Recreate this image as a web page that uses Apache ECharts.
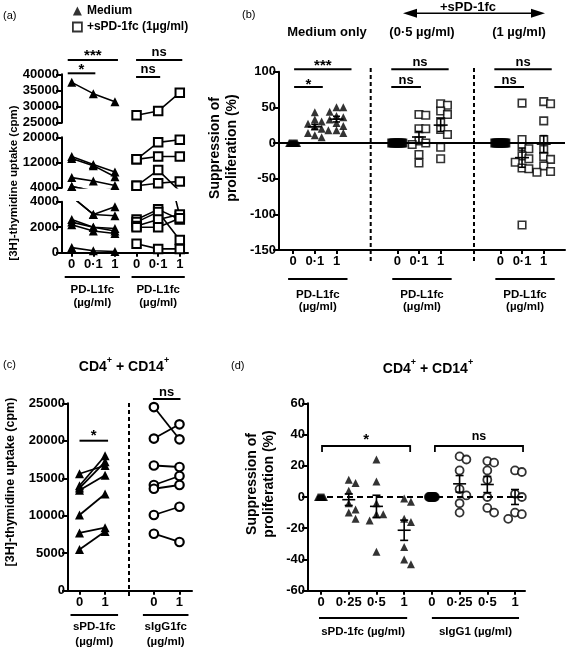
<!DOCTYPE html>
<html><head><meta charset="utf-8">
<script src="https://cdn.jsdelivr.net/npm/echarts@6/dist/echarts.min.js"></script>
<style>html,body{margin:0;padding:0;background:#fff}#c{width:568px;height:649px}</style>
</head><body><div id="c"></div>
<script>
// ================= DATA =================
// (a) [3H]-thymidine uptake (cpm), PD-L1fc 0 / 0·1 / 1 µg/ml
const aTickLabels = ['0', '0·1', '1', '0', '0·1', '1'];
const aMedium = [
  [37500, 34000, 31500],
  [13900, 11400, 9000],
  [13300, 11000, 7500],
  [7200, 6100, 4700],
  [4400, 3000, 3600],
  [4400, 3000, 2900],
  [2600, 2000, 1900],
  [2400, 2000, 1700],
  [2200, 1700, 1500],
  [400, 150, 100]
];
const aSPD = [
  [27300, 28600, 34300],
  [13000, 18400, 19200],
  [13000, 13900, 13900],
  [4600, 9600, 2900],
  [4600, 5400, 6000],
  [2600, 3400, 2600],
  [2400, 3200, 1000],
  [2100, 2600, 3000],
  [2000, 2000, 2700],
  [700, 300, 300]
];
const aTopTicks = [25000, 30000, 35000, 40000];
const aMidTicks = [4000, 12000, 20000];
const aLowTicks = [0, 2000, 4000];

// (b) suppression of proliferation (%)
const bTickLabels = ['0', '0·1', '1', '0', '0·1', '1', '0', '0·1', '1'];
const bMedium0 = [0, 0, 0, 0, 0, 0, 0, 0, 0, 0];
const bMedium01 = [43, 33, 30, 27, 23, 20, 18, 14, 11, 8];
const bMedium1 = [50, 50, 44, 38, 36, 33, 28, 24, 18, 14];
const bSPD05_0 = [0, 0, 0, 0, 0, 0, 0, 0, 0];
const bSPD05_01 = [40, 39, 20, 20, 3, 0, -2, -16, -28];
const bSPD05_1 = [55, 53, 45, 40, 30, 19, 12, -6, -22];
const bSPD1_0 = [0, 0, 0, 0, 0, 0, 0, 0, 0, 0];
const bSPD1_01 = [56, 5, -5, -8, -18, -22, -27, -35, -36, -115];
const bSPD1_1 = [58, 55, 31, 5, -9, -19, -23, -32, -40, -41];
const bTicksY = [-150, -100, -50, 0, 50, 100];

// (c) CD4+ + CD14+ thymidine uptake (cpm)
const cTickLabels = ['0', '1', '0', '1'];
const cSPD = [[15600, 16700], [14000, 18000], [13700, 17200], [13400, 15400], [10100, 12900], [7700, 8400], [5500, 7900]];
const cIgG = [[24500, 20200], [20300, 22200], [16700, 16500], [14100, 15300], [13600, 14100], [10100, 11200], [7600, 6500]];
const cTicksY = [0, 5000, 10000, 15000, 20000, 25000];

// (d) CD4+ + CD14+ suppression (%)
const dTickLabels = ['0', '0·25', '0·5', '1', '0', '0·25', '0·5', '1'];
const dSPD0 = [0, 0, 0, 0, 0, 0, 0];
const dSPD025 = [11, 9, 4, -4, -8, -10, -14];
const dSPD05 = [24, 10, -4, -11, -11, -15, -35];
const dSPD1 = [-1, -3, -14, -16, -32, -40, -43];
const dIgG0 = [0, 0, 0, 0, 0, 0, 0];
const dIgG025 = [26, 24, 17, 5, 1, -4, -10];
const dIgG05 = [23, 22, 17, 11, 0, -7, -10];
const dIgG1 = [17, 16, 2, 0, -10, -11, -14];
const dTicksY = [-60, -40, -20, 0, 20, 40, 60];

// ================= LAYOUT =================
const FONT = '"Liberation Sans", Arial, Helvetica, sans-serif';
const TICK_FS = 13;
const aPos = [0, 1, 2, 3, 4, 5];
const bPos = [0, 1, 2, 4.8, 5.8, 6.8, 9.55, 10.55, 11.55];
const cPos = [0, 1, 2.91, 3.91];
const dPos = [0, 1, 2, 3, 4, 5, 6, 7];
const GRIDS = [
  {left: 62, top: 74.3, width: 126, height: 48.4},
  {left: 62, top: 137.3, width: 126, height: 50.4},
  {left: 62, top: 201.7, width: 126, height: 51},
  {left: 279, top: 71.7, width: 286, height: 178.3},
  {left: 68, top: 403.3, width: 124, height: 187.4},
  {left: 308, top: 403.3, width: 217, height: 187.4}
];
const XR = [[-0.45, 5.38], [-0.45, 5.38], [-0.45, 5.38], [-0.65, 12.53], [-0.45, 4.4], [-0.47, 7.36]];

const AX = {color: '#000', width: 2};
function yAxisOf(g, min, max, ticks) {
  return {type: 'value', gridIndex: g, min, max,
    axisLine: {show: true, onZero: false, lineStyle: AX},
    axisTick: {show: true, length: 6, lineStyle: AX, customValues: ticks},
    axisLabel: {show: true, customValues: ticks, formatter: v => String(v), color: '#000', fontFamily: FONT,
      fontWeight: 'bold', fontSize: TICK_FS, margin: 3, showMinLabel: true, showMaxLabel: true},
    splitLine: {show: false}};
}
function xAxisOf(g, pos, labels, show) {
  return {type: 'value', gridIndex: g, min: XR[g][0], max: XR[g][1],
    axisLine: {show, onZero: false, lineStyle: AX},
    axisTick: {show, length: 4, lineStyle: AX, customValues: pos},
    axisLabel: {show, customValues: pos, formatter: v => {
        let k = 0; pos.forEach((p, i) => { if (Math.abs(p - v) < Math.abs(pos[k] - v)) k = i; }); return labels[k]; },
      color: '#000', fontFamily: FONT, fontWeight: 'bold', fontSize: TICK_FS, margin: 5, showMinLabel: true, showMaxLabel: true},
    splitLine: {show: false}};
}

const xAxes = [
  xAxisOf(0, aPos, aTickLabels, false), xAxisOf(1, aPos, aTickLabels, false), xAxisOf(2, aPos, aTickLabels, true),
  xAxisOf(3, bPos, bTickLabels, true), xAxisOf(4, cPos, cTickLabels, true), xAxisOf(5, dPos, dTickLabels, true)
];
const yAxes = [
  yAxisOf(0, 25000, 40000, aTopTicks), yAxisOf(1, 4000, 20000, aMidTicks), yAxisOf(2, 0, 4000, aLowTicks),
  yAxisOf(3, -150, 100, bTicksY), yAxisOf(4, 0, 25000, cTicksY), yAxisOf(5, -60, 60, dTicksY)
];

const TRI = {color: '#000'};
const SQ = {color: '#fff', borderColor: '#000', borderWidth: 1.6};
const SQF = {color: '#000', borderColor: '#000', borderWidth: 1.6};
const CIR = {color: '#fff', borderColor: '#000', borderWidth: 1.8};
const CIRF = {color: '#000', borderColor: '#000', borderWidth: 1.8};

const series = [];
// legend dummies
series.push({type: 'scatter', name: 'Medium', xAxisIndex: 0, yAxisIndex: 0, data: [], symbol: 'triangle', itemStyle: TRI});
series.push({type: 'scatter', name: '+sPD-1fc (1µg/ml)', xAxisIndex: 0, yAxisIndex: 0, data: [], symbol: 'rect', itemStyle: {color: '#fff', borderColor: '#000', borderWidth: 1.8}});

// (a) three broken-axis segments
for (let g = 0; g < 3; g++) {
  aMedium.forEach(row => series.push({type: 'line', name: 'a-med', xAxisIndex: g, yAxisIndex: g,
    data: row.map((v, i) => [aPos[i], v]), symbol: 'triangle', symbolSize: 9, clip: true,
    lineStyle: {color: '#000', width: 1.6}, itemStyle: TRI, z: 3, silent: true}));
  aSPD.forEach(row => series.push({type: 'line', name: 'a-spd', xAxisIndex: g, yAxisIndex: g,
    data: row.map((v, i) => [aPos[3 + i], v]), symbol: 'rect', symbolSize: 8.5, clip: true,
    lineStyle: {color: '#000', width: 1.6}, itemStyle: {color: '#fff', borderColor: '#000', borderWidth: 2}, z: 3, silent: true}));
}

// swarm layout (horizontal spreading of overlapping points)
function swarm(vals, yPx, size, zeroW) {
  const n = vals.length;
  if (vals.every(v => v === vals[0])) return vals.map((v, i) => n === 1 ? 0 : -zeroW / 2 + zeroW * i / (n - 1));
  const order = vals.map((_, i) => i).sort((a, b) => vals[b] - vals[a]);
  const placed = [], offs = new Array(n).fill(0), step = size * 0.85;
  for (const i of order) {
    const y = vals[i] * yPx;
    for (let k = 0; k < 12; k++) {
      const cand = k === 0 ? 0 : (k % 2 ? 1 : -1) * Math.ceil(k / 2) * step;
      offs[i] = cand;
      if (!placed.some(p => Math.abs(p.y - y) < size * 0.85 && Math.abs(p.o - cand) < step * 0.95)) break;
    }
    placed.push({y, o: offs[i]});
  }
  return offs;
}
function meanSem(v) {
  const n = v.length, m = v.reduce((a, b) => a + b, 0) / n;
  const sd = Math.sqrt(v.reduce((a, b) => a + (b - m) * (b - m), 0) / (n - 1));
  return [m, sd / Math.sqrt(n)];
}
function errSeries(g, items, hw, cw) {
  return {type: 'custom', xAxisIndex: g, yAxisIndex: g, z: 6, silent: true, data: items,
    renderItem: (params, api) => {
      const x = api.value(0), m = api.value(1), s = api.value(2);
      const pm = api.coord([x, m]), pl = api.coord([x, m - s]), ph = api.coord([x, m + s]);
      const st = {stroke: '#000', lineWidth: 1.6};
      return {type: 'group', children: [
        {type: 'line', shape: {x1: pm[0] - hw, y1: pm[1], x2: pm[0] + hw, y2: pm[1]}, style: st},
        {type: 'line', shape: {x1: pl[0], y1: pl[1], x2: ph[0], y2: ph[1]}, style: st},
        {type: 'line', shape: {x1: pl[0] - cw, y1: pl[1], x2: pl[0] + cw, y2: pl[1]}, style: st},
        {type: 'line', shape: {x1: ph[0] - cw, y1: ph[1], x2: ph[0] + cw, y2: ph[1]}, style: st}
      ]};
    }};
}

// (b)
const bGroups = [bMedium0, bMedium01, bMedium1, bSPD05_0, bSPD05_01, bSPD05_1, bSPD1_0, bSPD1_01, bSPD1_1];
const bYpx = 178.3 / 250, bXpx = 286 / (XR[3][1] - XR[3][0]);
const bErr = [];
bGroups.forEach((vals, gi) => {
  const isTri = gi < 3, isZero = vals.every(v => v === 0);
  const offs = swarm(vals, bYpx, 8, isTri ? 8 : 11);
  series.push({type: 'scatter', xAxisIndex: 3, yAxisIndex: 3, silent: true, z: 4,
    symbol: isTri ? 'triangle' : 'rect', symbolSize: isTri ? 8 : 7.5,
    itemStyle: isTri ? TRI : (isZero ? SQF : SQ),
    data: vals.map((v, i) => [bPos[gi] + offs[i] / bXpx, v])});
  if (!isZero) { const [m, s] = meanSem(vals); bErr.push([bPos[gi], m, s]); }
});
series.push(errSeries(3, bErr, 7, 3.5));

// (c)
cSPD.forEach(row => series.push({type: 'line', xAxisIndex: 4, yAxisIndex: 4, silent: true, z: 3,
  data: row.map((v, i) => [cPos[i], v]), symbol: 'triangle', symbolSize: 9,
  lineStyle: {color: '#000', width: 1.8}, itemStyle: TRI}));
cIgG.forEach(row => series.push({type: 'line', xAxisIndex: 4, yAxisIndex: 4, silent: true, z: 3,
  data: row.map((v, i) => [cPos[2 + i], v]), symbol: 'circle', symbolSize: 8.5,
  lineStyle: {color: '#000', width: 1.8}, itemStyle: {color: '#fff', borderColor: '#000', borderWidth: 2.2}}));

// (d)
const dGroups = [dSPD0, dSPD025, dSPD05, dSPD1, dIgG0, dIgG025, dIgG05, dIgG1];
const dYpx = 187.4 / 120, dXpx = 217 / (XR[5][1] - XR[5][0]);
const dErr = [];
dGroups.forEach((vals, gi) => {
  const isTri = gi < 4, isZero = vals.every(v => v === 0);
  const offs = swarm(vals, dYpx, 8, 6);
  series.push({type: 'scatter', xAxisIndex: 5, yAxisIndex: 5, silent: true, z: 4,
    symbol: isTri ? 'triangle' : 'circle', symbolSize: isTri ? 8 : 8,
    itemStyle: isTri ? TRI : (isZero ? CIRF : CIR),
    data: vals.map((v, i) => [dPos[gi] + offs[i] / dXpx, v])});
  if (!isZero) { const [m, s] = meanSem(vals); dErr.push([dPos[gi], m, s]); }
});
series.push(errSeries(5, dErr, 6.5, 4));

const chart = echarts.init(document.getElementById('c'), null, {renderer: 'canvas', width: 568, height: 649});
chart.setOption({
  animation: false,
  backgroundColor: '#fff',
  grid: GRIDS.map(g => Object.assign({show: false, containLabel: false, outerBoundsMode: 'none'}, g)),
  xAxis: xAxes, yAxis: yAxes,
  legend: {left: 67, top: 0, orient: 'vertical', itemGap: 4, itemWidth: 9, itemHeight: 9, selectedMode: false,
    textStyle: {fontFamily: FONT, fontWeight: 'bold', fontSize: 12, color: '#000'},
    data: [{name: 'Medium', icon: 'triangle'},
           {name: '+sPD-1fc (1µg/ml)', icon: 'rect', itemStyle: {color: '#fff', borderColor: '#000', borderWidth: 1.8}}]},
  series
});

// ================= ANNOTATIONS =================
const PX = (g, x) => chart.convertToPixel({xAxisIndex: g, yAxisIndex: g}, [x, 0])[0];
const PY = (g, y) => chart.convertToPixel({xAxisIndex: g, yAxisIndex: g}, [0, y])[1];
const G = [];
function T(text, x, y, o) {
  o = o || {};
  G.push({type: 'text', x, y, rotation: o.rot || 0, silent: true, z: 10,
    style: {text, fill: '#000', fontFamily: FONT, fontWeight: o.normal ? 'normal' : 'bold', fontSize: o.size || 12,
      align: o.align || 'center', verticalAlign: 'middle', lineHeight: o.lh, rich: o.rich}});
}
function L(x1, y1, x2, y2, w, dash) {
  G.push({type: 'line', silent: true, z: 10, shape: {x1, y1, x2, y2},
    style: {stroke: '#000', lineWidth: w || 2, lineDash: dash || null}});
}
function bar(x1, x2, y, txt, ty, size) { L(x1, y, x2, y, 2); T(txt, (x1 + x2) / 2, ty, {size: size}); }

// (a)
T('(a)', 3, 16, {normal: true, size: 11, align: 'left'});
bar(PX(2, 0) - 4, PX(2, 2) + 3, 60, '***', 56, 15);
bar(PX(2, 0) - 4, PX(2, 1) + 2, 73.3, '*', 69.5, 15);
bar(PX(2, 3) - 0.5, PX(2, 5) + 2.5, 60, 'ns', 52, 13);
bar(PX(2, 3) - 0.5, PX(2, 4) + 2, 77, 'ns', 69.5, 13);
[[PX(2, 0) - 7, PX(2, 2) + 5], [PX(2, 3) - 5, PX(2, 5) + 5]].forEach(([x1, x2]) => {
  L(x1, 277, x2, 277, 2);
  T('PD-L1fc', (x1 + x2) / 2, 290, {size: 11.5});
  T('(µg/ml)', (x1 + x2) / 2, 303, {size: 11.5});
});
T('[3H]-thymidine uptake (cpm)', 14, 183, {size: 11.5, rot: Math.PI / 2});

// (b)
T('(b)', 242, 15, {normal: true, size: 11, align: 'left'});
T('Medium only', 327, 32, {size: 13});
T('(0·5 µg/ml)', 422, 32, {size: 13});
T('(1 µg/ml)', 519, 32, {size: 13});
T('+sPD-1fc', 468, 7, {size: 13});
L(412, 13.3, 536, 13.3, 1.6);
G.push({type: 'polygon', silent: true, shape: {points: [[403, 13.3], [417, 8.8], [417, 17.8]]}, style: {fill: '#000'}});
G.push({type: 'polygon', silent: true, shape: {points: [[545, 13.3], [531, 8.8], [531, 17.8]]}, style: {fill: '#000'}});
const by0 = PY(3, 0);
L(GRIDS[3].left, by0, GRIDS[3].left + GRIDS[3].width, by0, 1.8);
[3.576, 8.336].forEach(u => L(PX(3, u), 68, PX(3, u), 263, 2, [4, 3]));
bar(PX(3, 0) + 1, PX(3, 2) + 15, 69.3, '***', 65.5, 15);
bar(PX(3, 0) + 1, PX(3, 1) + 8, 87, '*', 84.5, 15);
[3, 6].forEach(k => {
  bar(PX(3, bPos[k]) - 6, PX(3, bPos[k + 2]) + 8, 69.3, 'ns', 62, 13);
  bar(PX(3, bPos[k]) - 6, PX(3, bPos[k + 1]) + 2, 87, 'ns', 80, 13);
});
[0, 3, 6].forEach(k => {
  const x1 = PX(3, bPos[k]) - 5, x2 = PX(3, bPos[k + 2]) + 11;
  L(x1, 279, x2, 279, 2);
  T('PD-L1fc', (x1 + x2) / 2, 295, {size: 11.5});
  T('(µg/ml)', (x1 + x2) / 2, 307, {size: 11.5});
});
T('Suppression of\nproliferation (%)', 224, 148, {size: 14, lh: 17, rot: Math.PI / 2});

// (c)
const CD = {a: {fontFamily: FONT, fontWeight: 'bold', fontSize: 14, lineHeight: 18, verticalAlign: 'bottom'},
            s: {fontFamily: FONT, fontWeight: 'bold', fontSize: 9, lineHeight: 10, verticalAlign: 'top'}};
T('(c)', 3, 365, {normal: true, size: 11, align: 'left'});
T('{a|CD4}{s|+}{a| + CD14}{s|+}', 124, 365, {rich: CD});
L(PX(4, 1.936), 403, PX(4, 1.936), 597, 2, [4, 3]);
bar(PX(4, 0), PX(4, 1) + 3, 440.7, '*', 436, 15);
bar(PX(4, cPos[2]) - 1, PX(4, cPos[3]) + 1, 399, 'ns', 392, 13);
[[PX(4, 0) - 9, PX(4, 1) + 13, 'sPD-1fc'], [PX(4, cPos[2]) - 11, PX(4, cPos[3]) + 9, 'sIgG1fc']].forEach(([x1, x2, t]) => {
  L(x1, 615, x2, 615, 2);
  T(t, (x1 + x2) / 2, 627, {size: 11.5});
  T('(µg/ml)', (x1 + x2) / 2, 642, {size: 11.5});
});
T('[3H]-thymidine uptake (cpm)', 11, 482, {size: 12.5, rot: Math.PI / 2});

// (d)
T('(d)', 231, 366, {normal: true, size: 11, align: 'left'});
T('{a|CD4}{s|+}{a| + CD14}{s|+}', 428, 367, {rich: CD});
const dy0 = PY(5, 0);
L(317, dy0, 527, dy0, 2, [6, 4]);
[[PX(5, 0) + 1, PX(5, 3) + 6, '*', 440, 15], [PX(5, 4) + 3, PX(5, 7) + 8, 'ns', 437, 12.5]].forEach(([x1, x2, t, ty, fs]) => {
  L(x1, 446, x2, 446, 1.8); L(x1, 445.1, x1, 452, 1.8); L(x2, 445.1, x2, 452, 1.8);
  T(t, (x1 + x2) / 2, ty, {size: fs});
});
[[PX(5, 0) - 2, PX(5, 3) + 3, 'sPD-1fc (µg/ml)'], [PX(5, 4), PX(5, 7) + 4, 'sIgG1 (µg/ml)']].forEach(([x1, x2, t]) => {
  L(x1, 618, x2, 618, 2);
  T(t, (x1 + x2) / 2, 632, {size: 11.5});
});
T('Suppression of\nproliferation (%)', 261, 484, {size: 14, lh: 17, rot: Math.PI / 2});

chart.setOption({graphic: {elements: G}});
</script>
</body></html>
